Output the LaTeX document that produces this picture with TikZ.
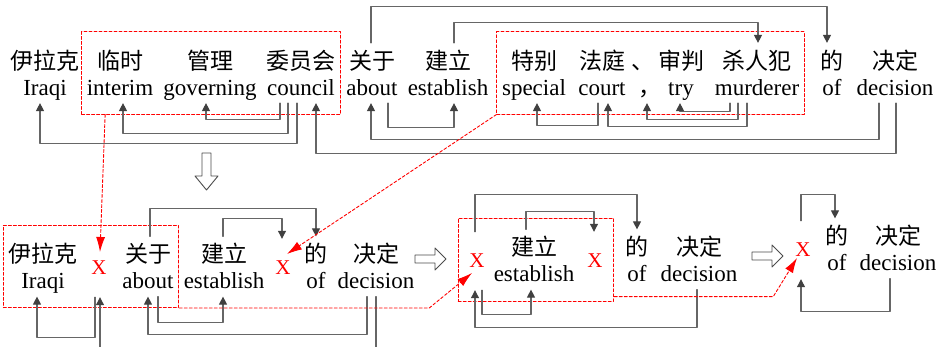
\documentclass[tikz,border=0pt]{standalone}
\usepackage{fontspec}
\setmainfont{Liberation Serif}
\newfontfamily\cjk{Noto Sans CJK SC}
\usetikzlibrary{arrows.meta}
\usetikzlibrary{fit}
\newcommand{\tk}[2]{\rule{0pt}{26pt}{\cjk #1}\\#2\strut}

\begin{document}
\begin{tikzpicture}[line cap=round,line join=round,x=1pt,y=-1pt,
  word/.style={align=center,inner sep=0pt,font=\fontsize{23}{26}\selectfont},
  gap/.style={inner sep=0pt,minimum height=58pt,text=red,font=\fontsize{21}{26}\selectfont},
  dep/.style={draw=black!60,line width=1.1pt,-{Triangle[length=8pt,width=8pt,color=black!75]}},
  link/.style={draw=red,line width=0.9pt,dash pattern=on 3pt off 2pt,-{Latex[length=15pt,width=9pt]}},
  span/.style={draw=red,line width=0.9pt,dash pattern=on 3pt off 2pt,inner xsep=5pt,inner ysep=11pt},
  hollow/.style={draw=black!70,line width=0.9pt,fill=white}]
\useasboundingbox (0,0) rectangle (940,347);
\node[word] (iraqi) at (45,73) {\tk{伊拉克}{Iraqi}};
\node[word] (interim) at (120,73) {\tk{临时}{interim}};
\node[word] (governing) at (210,73) {\tk{管理}{governing}};
\node[word] (council) at (301,73) {\tk{委员会}{council}};
\node[word] (about) at (372,73) {\tk{关于}{about}};
\node[word] (establish) at (448,73) {\tk{建立}{establish}};
\node[word] (special) at (534,73) {\tk{特别}{special}};
\node[word] (court) at (602,73) {\tk{法庭}{court}};
\node[word] (comma) at (650,73) {\tk{\kern-14pt 、}{\cjk ，}};
\node[word] (try) at (681,73) {\tk{审判}{try}};
\node[word] (murderer) at (757,73) {\tk{杀人犯}{murderer}};
\node[word] (of) at (832,73) {\tk{的}{of}};
\node[word] (decision) at (895,73) {\tk{决定}{decision}};
\node[span,fit=(interim)(council)] (span1) {};
\node[span,fit=(special)(murderer)] (span2) {};
\draw[dep] ([xshift=-4pt]council.south) -- ++(0,40) -| ([xshift=-5pt]iraqi.south);
\draw[dep] ([xshift=-13pt]council.south) -- ++(0,30) -| ([xshift=3pt]interim.south);
\draw[dep] ([xshift=-21pt]council.south) -- ++(0,16) -| ([xshift=-4pt]governing.south);
\draw[dep] ([xshift=1pt]decision.south) -- ++(0,50) -| ([xshift=15pt]council.south);
\draw[dep] ([xshift=-16pt]decision.south) -- ++(0,36) -| ([xshift=-1pt]about.south);
\draw[dep] ([xshift=16pt]about.south) -- ++(0,24) -| ([xshift=6pt]establish.south);
\draw[dep] ([xshift=-4pt]court.south) -- ++(0,22) -| ([xshift=3pt]special.south);
\draw[dep] ([xshift=-10pt]murderer.south) -- ++(0,23) -| ([xshift=6pt]court.south);
\draw[dep] ([xshift=-19pt]murderer.south) -- ++(0,16) -| ([xshift=-3pt]comma.south);
\draw[dep] ([xshift=-27pt]murderer.south) -- ++(0,8) -| ([xshift=-1pt]try.south);
\draw[dep] ([xshift=-1pt]about.north) -- ++(0,-36) -| ([xshift=-5pt]of.north);
\draw[dep] ([xshift=6pt]establish.north) -- ++(0,-20) -| ([xshift=1pt]murderer.north);
\draw[hollow] (202,153) -- (211,153) -- (211,176) -- (218,176) -- (206.5,190) -- (195,176) -- (202,176) -- cycle;
\node[word] (iraqi2) at (43,266.5) {\tk{伊拉克}{Iraqi}};
\node[gap] (gap1) at (99,268) {X};
\node[word] (about2) at (148,266.5) {\tk{关于}{about}};
\node[word] (establish2) at (224,266.5) {\tk{建立}{establish}};
\node[gap] (gap2) at (283,268) {X};
\node[word] (of2) at (316,266.5) {\tk{的}{of}};
\node[word] (decision2) at (376,266.5) {\tk{决定}{decision}};
\coordinate (gapin) at (100,347);
\coordinate (decout) at (376,347);
\node[span,fit=(iraqi2)(about2)] (span3) {};
\draw[dep] ([xshift=-4pt]gap1.south) -- ++(0,40) -| ([xshift=-6pt]iraqi2.south);
\draw[dep] (gapin) -- ([xshift=1pt]gap1.south);
\draw[dep] ([xshift=-9pt]decision2.south) -- ++(0,38) -| (about2.south);
\draw[dep] ([xshift=10pt]about2.south) -- ++(0,26) -| ([xshift=-1pt]establish2.south);
\draw[dep,-] (decision2.south) -- (decout);
\draw[dep] ([xshift=2pt]about2.north) -- ++(0,-28) -| (of2.north);
\draw[dep] ([xshift=-1pt]establish2.north) -- ++(0,-18) -| ([xshift=-1pt]gap2.north);
\draw[hollow] (415,255) -- (435,255) -- (435,248) -- (446,259) -- (435,270) -- (435,263) -- (415,263) -- cycle;
\node[gap] (gap3) at (477,261) {X};
\node[word] (establish3) at (534,259.5) {\tk{建立}{establish}};
\node[gap] (gap4) at (595,261) {X};
\node[word] (of3) at (637,259.5) {\tk{的}{of}};
\node[word] (decision3) at (699,259.5) {\tk{决定}{decision}};
\node[span,fit=(gap3)(gap4)(establish3),inner xsep=11pt] (span4) {};
\draw[dep] ([xshift=-2pt]gap3.north) -- ++(0,-37) -| (of3.north);
\draw[dep] ([xshift=-8pt]establish3.north) -- ++(0,-18) -| ([xshift=-1pt]gap4.north);
\draw[dep] ([xshift=5pt]gap3.south) -- ++(0,24) -| ([xshift=-3pt]establish3.south);
\draw[dep] ([xshift=-2pt]decision3.south) -- ++(0,38) -| ([xshift=-2pt]gap3.south);
\draw[hollow] (752,252) -- (772,252) -- (772,245) -- (783,256) -- (772,267) -- (772,260) -- (752,260) -- cycle;
\node[gap] (gap5) at (803,250) {X};
\node[word] (of4) at (837,248.5) {\tk{的}{of}};
\node[word] (decision4) at (898,248.5) {\tk{决定}{decision}};
\draw[dep] ([xshift=-2pt]gap5.north) -- ++(0,-26) -| ([xshift=-2pt]of4.north);
\draw[dep] ([xshift=-8pt]decision4.south) -- ++(0,33) -| ([xshift=-2pt]gap5.south);
\draw[link] ([xshift=24pt]span1.south west) -- ([shift={(1,-16)}]gap1.center);
\draw[link] (span2.south west) -- ([shift={(4,-14)}]gap2.center);
\draw[link] (span3.south east) -- ++(250,0) -- ([shift={(-5,12)}]gap3.center);
\draw[link] ([yshift=5pt]span4.south east) -- ++(159,0) -- ([shift={(-6,8)}]gap5.center);
\end{tikzpicture}
\end{document}
